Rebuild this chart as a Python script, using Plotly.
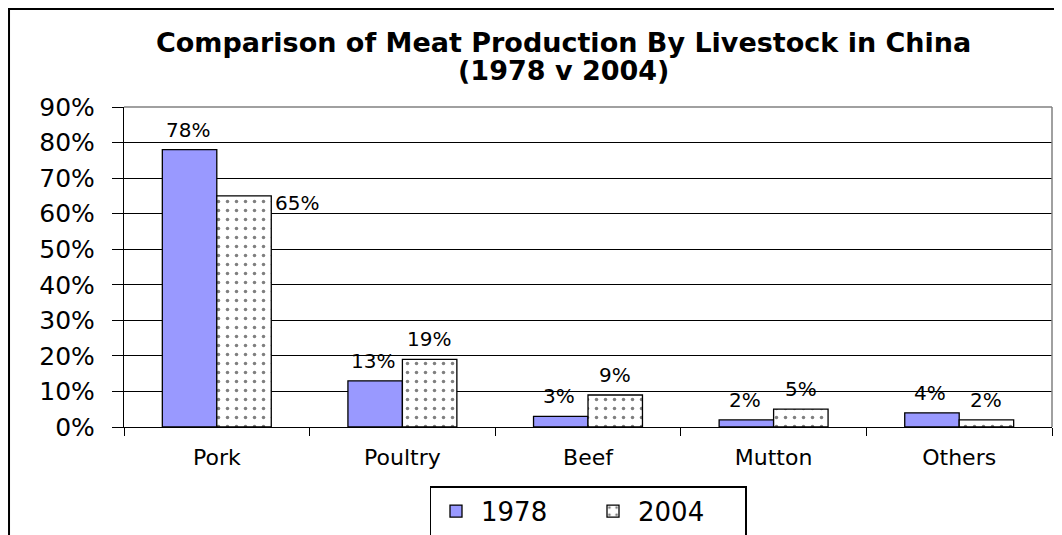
import plotly.graph_objects as go

categories = ["Pork", "Poultry", "Beef", "Mutton", "Others"]
values_1978 = [0.78, 0.13, 0.03, 0.02, 0.04]
values_2004 = [0.65, 0.19, 0.09, 0.05, 0.02]
labels_1978 = ["78%", "13%", "3%", "2%", "4%"]
labels_2004 = ["65%", "19%", "9%", "5%", "2%"]
y_ticks = [0, 0.1, 0.2, 0.3, 0.4, 0.5, 0.6, 0.7, 0.8, 0.9]
y_tick_labels = ["0%", "10%", "20%", "30%", "40%", "50%", "60%", "70%", "80%", "90%"]
title_lines = ["Comparison of Meat Production By Livestock in China", "(1978 v 2004)"]

FONT = "DejaVu Sans"

fig = go.Figure()
fig.add_trace(go.Bar(
    name="1978", x=categories, y=values_1978,
    marker=dict(color="#9999FF", line=dict(color="black", width=1.3)),
))
fig.add_trace(go.Bar(
    name="2004", x=categories, y=values_2004,
    marker=dict(color="white", line=dict(color="black", width=1.3),
                pattern=dict(shape=".", fgcolor="black", bgcolor="white",
                             size=9, solidity=0.12)),
))

annotations = []
# data labels
for i, c in enumerate(categories):
    annotations.append(dict(x=c, y=values_1978[i], xref="x", yref="y",
                            text=labels_1978[i], showarrow=False,
                            xshift=-29, yshift=6, yanchor="bottom",
                            font=dict(family=FONT, size=20, color="black")))
    if i == 0:
        annotations.append(dict(x=c, y=values_2004[i], xref="x", yref="y",
                                text=labels_2004[i], showarrow=False,
                                xshift=56, yshift=-7, xanchor="left", yanchor="middle",
                                font=dict(family=FONT, size=20, color="black")))
    else:
        annotations.append(dict(x=c, y=values_2004[i], xref="x", yref="y",
                                text=labels_2004[i], showarrow=False,
                                xshift=27, yshift=6, yanchor="bottom",
                                font=dict(family=FONT, size=20, color="black")))

# title (two lines)
for txt, yy in zip(title_lines, [1.203, 1.1125]):
    annotations.append(dict(x=0.4741, y=yy, xref="paper", yref="paper",
                            text="<b>" + txt + "</b>",
                            showarrow=False, xanchor="center", yanchor="middle",
                            font=dict(family=FONT, size=27, color="black")))

shapes = [
    # outer chart border
    dict(type="rect", xref="paper", yref="paper", x0=-0.1239, x1=1.3, y0=-0.6, y1=1.3062,
         line=dict(color="black", width=2), fillcolor="rgba(0,0,0,0)", layer="below"),
    # plot area border (gray) top and right
    dict(type="line", xref="paper", yref="paper", x0=0, x1=1, y0=1, y1=1,
         line=dict(color="#808080", width=1.5)),
    dict(type="line", xref="paper", yref="paper", x0=1, x1=1, y0=0, y1=1,
         line=dict(color="#808080", width=1.5)),
]

fig.update_layout(
    width=1054, height=527,
    margin=dict(l=116, r=10, t=99, b=108, autoexpand=False),
    paper_bgcolor="white", plot_bgcolor="white",
    barmode="group", bargap=0.413, bargroupgap=0,
    font=dict(family=FONT, color="black"),
    showlegend=True,
    legend=dict(orientation="h", x=0.5, xanchor="center", y=-0.185, yanchor="top",
                bordercolor="black", borderwidth=1.5, bgcolor="white",
                font=dict(family=FONT, size=26, color="black"),
                itemwidth=40, entrywidth=102, entrywidthmode="pixels",
                traceorder="normal"),
    annotations=annotations,
    shapes=shapes,
)
fig.update_xaxes(
    automargin=False,
    showline=True, linecolor="black", linewidth=1.3,
    ticks="outside", tickson="boundaries", ticklen=8, tickcolor="black", tickwidth=1.3,
    tickfont=dict(family=FONT, size=22, color="black"), ticklabelstandoff=10,
    showgrid=False,
)
fig.update_yaxes(
    automargin=False,
    range=[0, 0.9], tickvals=y_ticks, ticktext=y_tick_labels,
    showline=True, linecolor="black", linewidth=1.3,
    ticks="outside", ticklen=11, tickcolor="black", tickwidth=1.3,
    tickfont=dict(family=FONT, size=25, color="black"), ticklabelstandoff=12,
    showgrid=True, gridcolor="black", gridwidth=1, zeroline=False,
)

fig.write_html("out.html")
